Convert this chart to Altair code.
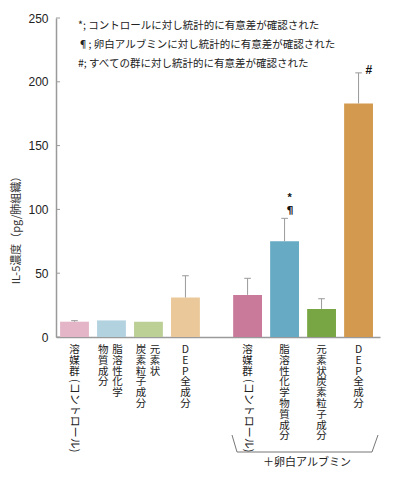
import altair as alt
import pandas as pd

# ---- data ----
positions = [0, 1, 2, 3, 4.68, 5.68, 6.68, 7.68]
values = [12, 13, 12, 31, 33, 75, 22, 183]
upper = [12.8, 13, 12, 48, 46, 93, 30, 207]
colors = ["#e3b5c6", "#b3d2df", "#bcd096", "#ebc899",
          "#c97a9a", "#66aac3", "#79a644", "#d39a4f"]
bar_ids = ["A1", "A2", "A3", "A4", "B1", "B2", "B3", "B4"]
y_ticks = [0, 50, 100, 150, 200, 250]
notes = ["*; コントロールに対し統計的に有意差が確認された",
         "¶; 卵白アルブミンに対し統計的に有意差が確認された",
         "#; すべての群に対し統計的に有意差が確認された"]
group_label = "＋卵白アルブミン"
y_title = "IL-5濃度（pg/肺組織）"
# (bar index, column offset, stacked text)
label_cols = [(0, 0.0, "溶媒群"), (1, 0.16, "脂溶性化学"), (1, -0.22, "物質成分"),
              (2, 0.18, "元素状"), (2, -0.20, "炭素粒子成分"), (3, 0.0, "DEP全成分"),
              (4, 0.0, "溶媒群"), (5, 0.0, "脂溶性化学物質成分"),
              (6, 0.0, "元素状炭素粒子成分"), (7, 0.0, "DEP全成分")]
rotated_labels = [(0, "(コントロール)"), (4, "(コントロール)")]
sig_star = [(5, "*")]
sig_pilcrow = [(5, "¶")]
sig_hash = [(7, "#")]

JP = "Noto Sans CJK JP"
LAT = "Liberation Sans"
AX = "#9a9a9a"

X_SCALE = alt.Scale(domain=[-0.5, 8.26], nice=False, zero=False)
Y_SCALE = alt.Scale(domain=[0, 250], nice=False)
X_AXIS = alt.Axis(labels=False, ticks=False, title=None, grid=False,
                  domainColor=AX, domainWidth=1.5)
Y_AXIS = alt.Axis(values=y_ticks, ticks=False, grid=False, domainColor=AX,
                  domainWidth=1.5, labelPadding=8, labelFontSize=12,
                  labelFont=LAT, labelColor="#222", title=y_title,
                  titleFont=JP, titleFontSize=11, titleFontWeight="normal",
                  titleAngle=270, titleX=-40, titleY=209, titleColor="#333",
                  titleAlign="center", titleBaseline="middle")


def X(f):
    return alt.X(f, scale=X_SCALE, axis=X_AXIS)


def Y(f):
    return alt.Y(f, scale=Y_SCALE, axis=Y_AXIS)


bars_df = pd.DataFrame({"id": bar_ids, "pos": positions, "value": values, "upper": upper})
bars_df["base"] = 0
bars_df["x0"] = bars_df["pos"] - 0.39
bars_df["x1"] = bars_df["pos"] + 0.39
bars_df["c0"] = bars_df["pos"] - 0.09
bars_df["c1"] = bars_df["pos"] + 0.09

bars = alt.Chart(bars_df).mark_bar().encode(
    x=X("x0:Q"), x2="x1:Q",
    y=Y("value:Q"), y2="base:Q",
    color=alt.Color("id:N", scale=alt.Scale(domain=bar_ids, range=colors), legend=None),
)

err_df = bars_df[bars_df["upper"] > bars_df["value"]]
err_line = alt.Chart(err_df).mark_rule(color=AX, strokeWidth=1).encode(
    x=X("pos:Q"), y=Y("value:Q"), y2="upper:Q",
)
err_cap = alt.Chart(err_df).mark_rule(color=AX, strokeWidth=1).encode(
    x=X("c0:Q"), x2="c1:Q", y=Y("upper:Q"),
)

ticks = alt.Chart(pd.DataFrame({"t": y_ticks})).mark_rule(color=AX, strokeWidth=1).encode(
    y=Y("t:Q"), x=alt.value(0), x2=alt.value(4),
)

lab_df = pd.DataFrame({
    "lx": [positions[i] + off for i, off, _ in label_cols],
    "txt": ["\n".join(list(t)) for _, _, t in label_cols],
})
labels = alt.Chart(lab_df).mark_text(
    font=JP, fontSize=10.5, lineBreak="\n", lineHeight=10.8,
    baseline="top", align="center", color="#222",
).encode(x=X("lx:Q"), y=alt.value(327), text="txt:N")

rot_df = pd.DataFrame({"lx": [positions[i] for i, _ in rotated_labels],
                       "txt": [t for _, t in rotated_labels]})
rot_labels = alt.Chart(rot_df).mark_text(
    font=JP, fontSize=11, angle=90, baseline="middle", align="left", color="#222",
).encode(x=X("lx:Q"), y=alt.value(361), text="txt:N")


def sig_layer(items, dx_pos, dy, size, font, weight):
    df = pd.DataFrame({"lx": [positions[i] + dx_pos for i, _ in items],
                       "u": [upper[i] for i, _ in items],
                       "txt": [t for _, t in items]})
    return alt.Chart(df).mark_text(
        font=font, fontSize=size, fontWeight=weight, baseline="middle",
        align="center", dy=dy, color="#111",
    ).encode(x=X("lx:Q"), y=Y("u:Q"), text="txt:N")


sig1 = sig_layer(sig_star, 0.14, -20, 11, LAT, "bold")
sig2 = sig_layer(sig_pilcrow, 0.15, -7, 11, "DejaVu Sans", "bold")
sig3 = sig_layer(sig_hash, 0.28, -3, 12, LAT, "bold")

notes_chart = alt.Chart(pd.DataFrame({"txt": ["\n".join(notes)]})).mark_text(
    font=JP, fontSize=10.5, lineBreak="\n", lineHeight=19, baseline="top",
    align="left", color="#222",
).encode(x=alt.value(22), y=alt.value(3), text="txt:N")

one = pd.DataFrame({"a": [0]})
br_style = dict(color="#777", strokeWidth=1)
br1 = alt.Chart(one).mark_rule(**br_style).encode(
    x=alt.value(176), x2=alt.value(181), y=alt.value(417), y2=alt.value(434))
br2 = alt.Chart(one).mark_rule(**br_style).encode(
    x=alt.value(181), x2=alt.value(316), y=alt.value(434))
br3 = alt.Chart(one).mark_rule(**br_style).encode(
    x=alt.value(316), x2=alt.value(322), y=alt.value(434), y2=alt.value(417))
grp = alt.Chart(pd.DataFrame({"txt": [group_label]})).mark_text(
    font=JP, fontSize=11, baseline="middle", align="center", color="#222",
).encode(x=alt.value(251), y=alt.value(445), text="txt:N")

chart = alt.layer(
    bars, err_line, err_cap, ticks, labels, rot_labels, sig1, sig2, sig3,
    notes_chart, br1, br2, br3, grp,
).properties(
    width=324, height=319,
    autosize=alt.AutoSizeParams(type="none"),
    padding={"left": 48, "top": 10, "right": 8, "bottom": 140},
    background="white",
).configure_view(stroke=None)

chart.save("out.html", embed_options={"renderer": "svg", "actions": False})
